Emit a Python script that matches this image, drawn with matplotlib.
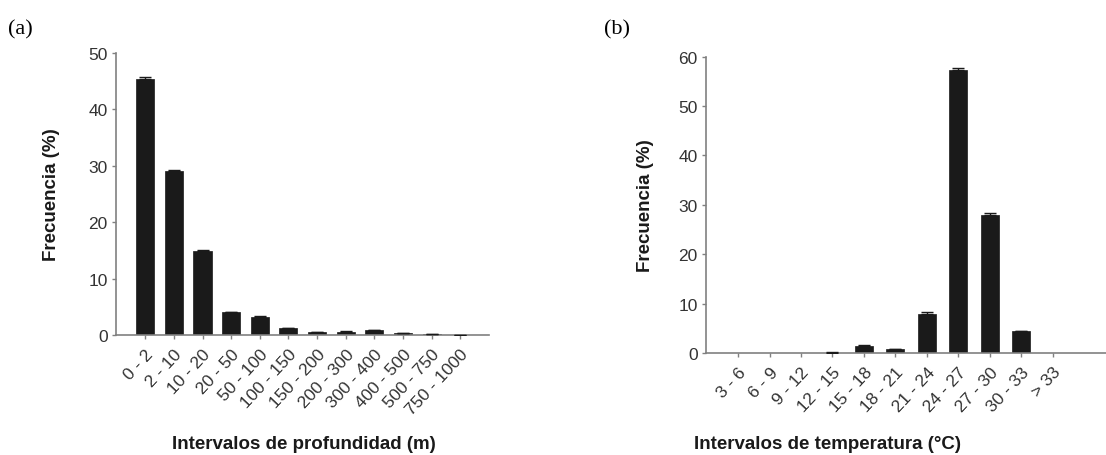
import matplotlib
matplotlib.use("Agg")
import matplotlib.pyplot as plt

depth_labels = ["0 - 2", "2 - 10", "10 - 20", "20 - 50", "50 - 100", "100 - 150",
                "150 - 200", "200 - 300", "300 - 400", "400 - 500", "500 - 750", "750 - 1000"]
depth_values = [45.4, 29.1, 14.9, 4.0, 3.25, 1.2, 0.5, 0.6, 0.8, 0.3, 0.2, 0.05]
depth_err = [0.3, 0.2, 0.15, 0.1, 0.15, 0.1, 0.05, 0.05, 0.08, 0.05, 0.03, 0.02]

temp_labels = ["3 - 6", "6 - 9", "9 - 12", "12 - 15", "15 - 18", "18 - 21",
               "21 - 24", "24 - 27", "27 - 30", "30 - 33", "> 33"]
temp_values = [0.0, 0.0, 0.0, 0.1, 1.5, 0.75, 7.95, 57.3, 28.0, 4.4, 0.0]
temp_err = [0.0, 0.0, 0.0, 0.03, 0.15, 0.1, 0.3, 0.4, 0.45, 0.15, 0.0]

plt.rcParams['font.family'] = ['Liberation Sans', 'DejaVu Sans']

W, H = 1106, 456
fig = plt.figure(figsize=(W / 100, H / 100), dpi=100)

spine_col = "#808080"
tick_col = "#333333"


def panel(rect, labels, values, errs, ylim, yticks, xlim, width, xlabel, tag, tagpos, ylabel_x):
    ax = fig.add_axes(rect)
    x = list(range(len(labels)))
    ax.bar(x, values, width=width, color="#1a1a1a", edgecolor="#1a1a1a", linewidth=0.5, zorder=2)
    keep = [i for i in x if values[i] > 0]
    ax.errorbar([x[i] for i in keep], [values[i] for i in keep],
                yerr=[[0] * len(keep), [errs[i] for i in keep]], fmt="none",
                ecolor="#1a1a1a", elinewidth=1, capsize=4, capthick=1, zorder=3)
    ax.set_xlim(*xlim)
    ax.set_ylim(*ylim)
    ax.set_yticks(yticks)
    ax.set_xticks(x)
    ax.set_xticklabels(labels, rotation=47, ha="right", rotation_mode="anchor")
    for s in ("top", "right"):
        ax.spines[s].set_visible(False)
    for s in ("left", "bottom"):
        ax.spines[s].set_color(spine_col)
        ax.spines[s].set_linewidth(1.2)
    ax.tick_params(axis="both", direction="out", length=3, width=1, color=spine_col,
                   labelcolor=tick_col, labelsize=12.5, pad=3)
    ax.tick_params(axis="x", pad=5)
    ax.set_ylabel("Frecuencia (%)", fontsize=13.5, fontweight="bold", color="#1a1a1a")
    ax.yaxis.set_label_coords(ylabel_x, 0.5)
    fig.text(xlabel[1], 1 - 445 / H, xlabel[0],
             ha="center", va="center", fontsize=13.5, fontweight="bold", color="#1a1a1a")
    fig.text(tagpos[0] / W, 1 - tagpos[1] / H, tag, ha="left", va="center",
             fontsize=16, family=["Liberation Serif", "DejaVu Serif"], color="black")
    return ax


panel([116 / W, 1 - 336 / H, (489 - 116) / W, (336 - 54) / H],
      depth_labels, depth_values, depth_err, (0, 50), [0, 10, 20, 30, 40, 50],
      (-1.02, 12.0), 0.63, ("Intervalos de profundidad (m)", 304 / W), "(a)", (8, 30),
      -0.15)

panel([706 / W, 1 - 354 / H, (1106 - 706) / W, (354 - 57.7) / H],
      temp_labels, temp_values, temp_err, (0, 60), [0, 10, 20, 30, 40, 50, 60],
      (-1.02, 11.7), 0.57, ("Intervalos de temperatura (\u00b0C)", 827 / W), "(b)", (604, 30),
      -0.13)

fig.savefig("out.png", dpi=100)
